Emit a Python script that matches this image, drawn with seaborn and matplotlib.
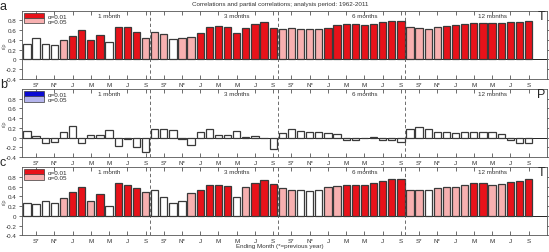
import numpy as np
import pandas as pd
import matplotlib
matplotlib.use("Agg")
import matplotlib.pyplot as plt
from matplotlib.patches import Patch
from matplotlib.ticker import FuncFormatter
import seaborn as sns

# months ending each window (* = previous year)
months = ["A*", "S*", "O*", "N*", "D*", "J", "F", "M", "A", "M", "J", "J", "A", "S"]
scales = ["1 month", "3 months", "6 months", "12 months"]
tick_months = ["S*", "N*", "J", "M", "M", "J", "S"]

# panel a: correlations with T
corr_a = [0.32, 0.43, 0.31, 0.30, 0.40, 0.49, 0.60, 0.39, 0.50, 0.36, 0.67, 0.66, 0.56, 0.44,
          0.56, 0.52, 0.42, 0.44, 0.46, 0.55, 0.66, 0.68, 0.66, 0.54, 0.64, 0.73, 0.76, 0.64,
          0.62, 0.64, 0.62, 0.62, 0.62, 0.64, 0.70, 0.72, 0.72, 0.71, 0.73, 0.77, 0.79, 0.79,
          0.66, 0.64, 0.62, 0.66, 0.68, 0.70, 0.72, 0.75, 0.75, 0.75, 0.75, 0.76, 0.77, 0.79]
sig_a = [0, 0, 0, 0, 1, 2, 2, 2, 2, 0, 2, 2, 2, 1,
         1, 1, 0, 1, 1, 2, 2, 2, 2, 2, 2, 2, 2, 2,
         1, 1, 1, 1, 1, 2, 2, 2, 2, 2, 2, 2, 2, 2,
         1, 1, 1, 1, 2, 2, 2, 2, 2, 2, 2, 2, 2, 2]

# panel b: partial correlations with P
corr_b = [0.14, 0.03, -0.12, -0.10, 0.12, 0.24, -0.12, 0.05, 0.06, 0.16, -0.18, -0.02, -0.20, -0.30,
          0.17, 0.17, 0.16, -0.02, -0.16, 0.12, 0.18, 0.05, 0.05, 0.14, 0.02, 0.03, -0.01, -0.24,
          0.10, 0.17, 0.14, 0.12, 0.12, 0.09, 0.08, -0.05, -0.04, -0.01, 0.02, -0.05, -0.05, -0.10,
          0.17, 0.22, 0.17, 0.12, 0.12, 0.09, 0.12, 0.12, 0.12, 0.12, 0.07, -0.04, -0.12, -0.12]
sig_b = [0] * 56

# panel c: partial correlations with T
corr_c = [0.26, 0.24, 0.31, 0.26, 0.37, 0.49, 0.58, 0.31, 0.44, 0.21, 0.67, 0.64, 0.56, 0.48,
          0.53, 0.38, 0.27, 0.31, 0.47, 0.53, 0.63, 0.63, 0.61, 0.38, 0.60, 0.68, 0.74, 0.66,
          0.56, 0.53, 0.53, 0.51, 0.53, 0.58, 0.62, 0.63, 0.63, 0.63, 0.68, 0.72, 0.76, 0.76,
          0.53, 0.53, 0.52, 0.56, 0.58, 0.60, 0.63, 0.67, 0.67, 0.63, 0.65, 0.69, 0.72, 0.75]
sig_c = [0, 0, 0, 0, 1, 2, 2, 1, 2, 0, 2, 2, 2, 1,
         0, 0, 0, 0, 1, 2, 2, 2, 2, 0, 1, 2, 2, 2,
         1, 1, 0, 0, 0, 1, 1, 2, 2, 2, 2, 2, 2, 2,
         1, 1, 0, 1, 1, 1, 1, 2, 2, 1, 1, 2, 2, 2]

red_cols = {0: "white", 1: "#f7b0b0", 2: "#e8121a"}
blue_cols = {0: "white", 1: "#b4b4ec", 2: "#0a0ad2"}

panels = [("a", corr_a, sig_a, red_cols, "T"),
          ("b", corr_b, sig_b, blue_cols, "P"),
          ("c", corr_c, sig_c, red_cols, "T")]

sns.set_theme(style="white")
plt.rcParams["font.family"] = ["Liberation Sans", "DejaVu Sans"]

fig = plt.figure(figsize=(5.49, 2.53), dpi=100)
bottoms = [0.684, 0.375, 0.066]

pos_ids = [f"{g}_{m}_{i}" for i, (g, m) in
           enumerate((g, m) for g in range(4) for m in months)]
tick_pos = [g * 14 + k for g in range(4) for k in (1, 3, 5, 7, 9, 11, 13)]

for (letter, vals, sig, cols, var), b in zip(panels, bottoms):
    ax = fig.add_axes([0.040, b, 0.956, 0.27])
    df = pd.DataFrame({"pos": pos_ids, "r": vals, "sig": sig})
    pal = {p: cols[s] for p, s in zip(pos_ids, sig)}
    sns.barplot(data=df, x="pos", y="r", hue="pos", palette=pal, legend=False,
                order=pos_ids, hue_order=pos_ids, width=0.8, saturation=1,
                edgecolor="#3a3a3a", linewidth=0.9, ax=ax)
    ax.axhline(0, color="black", lw=0.6, zorder=0)
    for xv in (13.5, 27.5, 41.5):
        ax.axvline(xv, color="#555555", lw=0.6, ls=(0, (4, 3)))
    ax.set_xlim(-0.55, 57.0)
    ax.set_ylim(-0.4, 1.0)
    ax.set_yticks(np.arange(-0.4, 0.81, 0.2))
    ax.yaxis.set_major_formatter(FuncFormatter(lambda v, p: "0" if abs(v) < 1e-9 else f"{v:.1f}"))
    ax.set_xticks(tick_pos)
    ax.set_xticklabels(tick_months * 4)
    ax.set_xlabel("")
    ax.set_ylabel("r/ρ", fontsize=4, color="#555555")
    ax.yaxis.set_label_coords(-0.030, 0.5)
    ax.tick_params(axis="x", direction="in", top=True, bottom=True, length=3,
                   width=0.5, labelsize=4.5, pad=2, colors="#333333")
    ax.tick_params(axis="y", direction="out", left=True, right=True, length=2.5,
                   width=0.5, labelsize=4.5, pad=1.5, colors="#333333")
    for sp in ax.spines.values():
        sp.set_linewidth(0.6)
        sp.set_color("#555555")
    for g, s in enumerate(scales):
        ax.text(g * 14 + 9, 0.9, s, fontsize=4.5, ha="center", va="center", color="#333333")
    ax.text(56.4, 0.9, var, fontsize=9, ha="center", va="center")
    handles = [Patch(facecolor=cols[2], edgecolor="#3a3a3a", lw=0.5, label="α=0.01"),
               Patch(facecolor=cols[1], edgecolor="#3a3a3a", lw=0.5, label="α=0.05")]
    ax.legend(handles=handles, loc="upper left", frameon=False, fontsize=4.5,
              handlelength=3.2, handleheight=1.0, labelspacing=-0.15,
              handletextpad=0.6, borderpad=0.15, borderaxespad=0.2)
    fig.text(0.0, b + 0.27 + 0.02, letter, fontsize=9, va="center", ha="left")

fig.text(0.51, 0.993, "Correlations and partial correlations; analysis period: 1962-2011",
         fontsize=4.5, ha="center", va="top", color="#333333")
fig.text(0.51, 0.024, "Ending Month (*=previous year)", fontsize=4.5,
         ha="center", va="center", color="#333333")

fig.savefig("out.png", dpi=100)
